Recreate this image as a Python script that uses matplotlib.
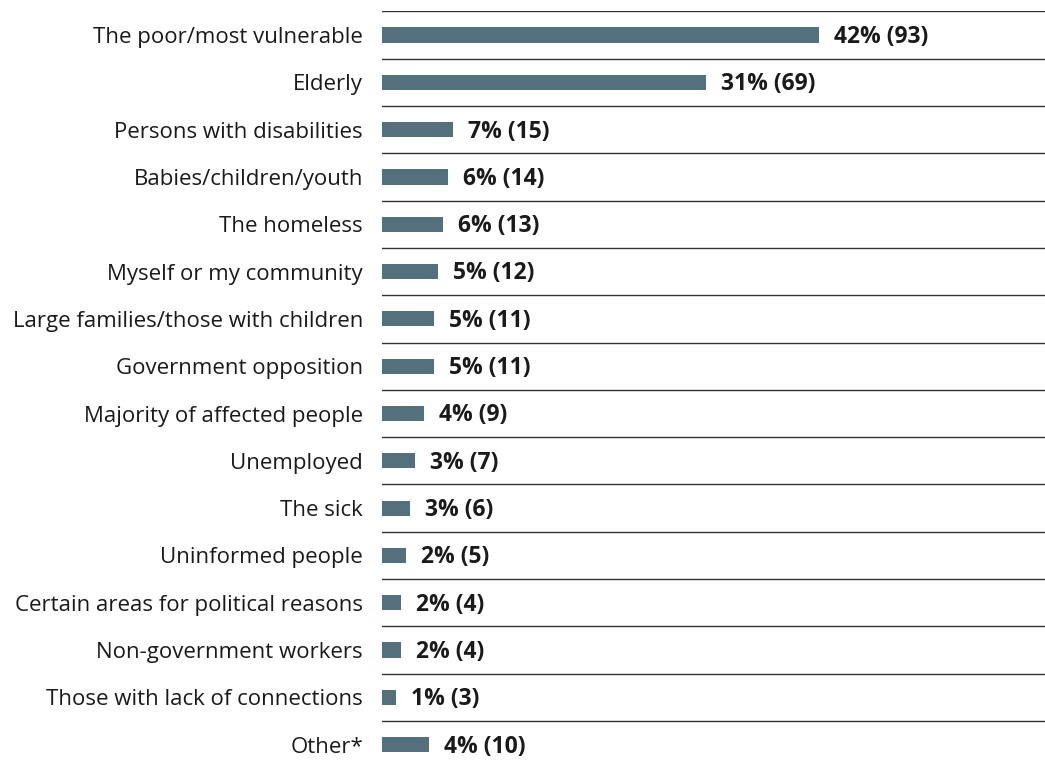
import matplotlib.pyplot as plt

plt.rcParams['font.family'] = ['Open Sans', 'DejaVu Sans']

categories = ['The poor/most vulnerable', 'Elderly', 'Persons with disabilities',
              'Babies/children/youth', 'The homeless', 'Myself or my community',
              'Large families/those with children', 'Government opposition',
              'Majority of affected people', 'Unemployed', 'The sick',
              'Uninformed people', 'Certain areas for political reasons',
              'Non-government workers', 'Those with lack of connections', 'Other*']
percents = [42, 31, 7, 6, 6, 5, 5, 5, 4, 3, 3, 2, 2, 2, 1, 4]
counts = [93, 69, 15, 14, 13, 12, 11, 11, 9, 7, 6, 5, 4, 4, 3, 10]

W, H = 1045, 765
fig = plt.figure(figsize=(W / 100, H / 100), dpi=100)
ax = fig.add_axes([382 / W, 0, 1 - 382 / W, 1 - 11.4 / H])

pos = list(range(len(categories)))
bar_color = '#53707c'
ax.barh(pos, counts, height=0.32, color=bar_color)

for i, (p, c) in enumerate(zip(percents, counts)):
    ax.text(c + 3.2, i + 0.04, f'{p}% ({c})', va='center', ha='left',
            fontsize=16.5, fontweight='bold', color='#1a1a1a')

for i in pos:
    ax.axhline(i - 0.5, color='#333333', lw=1.0)

ax.set_xlim(0, 141)
ax.set_ylim(15.43, -0.5)
ax.set_yticks(pos)
ax.set_yticklabels(categories, fontsize=16, color='#1a1a1a')
ax.tick_params(axis='y', length=0, pad=13.7)
ax.set_xticks([])
for s in ax.spines.values():
    s.set_visible(False)

fig.savefig('out.png', dpi=100)
